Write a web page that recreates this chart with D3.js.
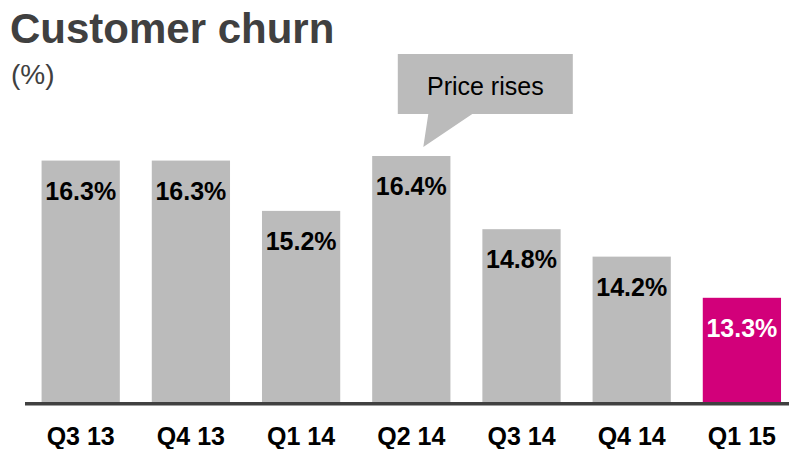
<!DOCTYPE html>
<html>
<head>
<meta charset="utf-8">
<script src="https://cdn.jsdelivr.net/npm/d3@7"></script>
<style>
	body { margin: 0; background: #fff; }
	svg { display: block; font-family: Arial, 'Liberation Sans', sans-serif; }
</style>
</head>
<body>
<div id="chart"></div>
<script>
var quarters = ['Q3 13', 'Q4 13', 'Q1 14', 'Q2 14', 'Q3 14', 'Q4 14', 'Q1 15'];
var churn = [16.3, 16.3, 15.2, 16.4, 14.8, 14.2, 13.3];
var highlight = 'Q1 15';
var note = { quarter: 'Q2 14', text: 'Price rises' };

var width = 789;
var height = 449;
var baseY = 403;
var barGrey = '#bbbbbb';
var magenta = '#d2007a';

var svg = d3.select('#chart')
	.append('svg')
	.attr('width', width)
	.attr('height', height);

var xScale = d3.scaleBand()
	.domain(quarters)
	.range([25.6, 797])
	.paddingInner(0.29)
	.paddingOuter(0.145);

var yScale = d3.scaleLinear()
	.domain([11, 16.4])
	.range([baseY, 156]);

// title
svg.append('text')
	.attr('x', 10)
	.attr('y', 43)
	.style('font-size', '42px')
	.style('font-weight', 'bold')
	.style('fill', '#404040')
	.text('Customer churn');

svg.append('text')
	.attr('x', 11)
	.attr('y', 84)
	.style('font-size', '28px')
	.style('fill', '#404040')
	.text('(%)');

// bars
var data = quarters.map(function(q, i) {
	return { q: q, v: churn[i] };
});

var bars = svg.append('g').classed('bars', true)
	.selectAll('g')
	.data(data)
	.enter()
	.append('g');

bars.append('rect')
	.attr('x', function(d) { return xScale(d.q); })
	.attr('y', function(d) { return yScale(d.v); })
	.attr('width', xScale.bandwidth())
	.attr('height', function(d) { return baseY - yScale(d.v); })
	.style('fill', function(d) { return d.q === highlight ? magenta : barGrey; });

bars.append('text')
	.attr('x', function(d) { return xScale(d.q) + xScale.bandwidth() / 2; })
	.attr('y', function(d) { return yScale(d.v) + 39; })
	.style('font-size', '25px')
	.style('font-weight', 'bold')
	.style('text-anchor', 'middle')
	.style('fill', function(d) { return d.q === highlight ? '#fff' : '#000'; })
	.text(function(d) { return d.v.toFixed(1) + '%'; });

// baseline
svg.append('line')
	.attr('x1', 25)
	.attr('x2', width)
	.attr('y1', baseY + 0.75)
	.attr('y2', baseY + 0.75)
	.style('stroke', '#404040')
	.style('stroke-width', 3.5);

// category labels
svg.append('g').classed('labels', true)
	.selectAll('text')
	.data(quarters)
	.enter()
	.append('text')
	.attr('x', function(d) { return xScale(d) + xScale.bandwidth() / 2; })
	.attr('y', 445)
	.style('font-size', '25px')
	.style('font-weight', 'bold')
	.style('text-anchor', 'middle')
	.style('fill', '#000')
	.text(function(d) { return d; });

// callout
var cx = xScale(note.quarter) + xScale.bandwidth() / 2;
var boxW = 175, boxTop = 54, boxBottom = 114;
var boxL = cx + 75 - boxW / 2 - 1;
var callout = svg.append('g').classed('callout', true);

callout.append('path')
	.attr('d', 'M' + boxL + ',' + boxTop +
		'H' + (boxL + boxW) +
		'V' + boxBottom +
		'H' + (cx + 61) +
		'L' + (cx + 12) + ',' + (boxBottom + 33) +
		'L' + (cx + 17) + ',' + boxBottom +
		'H' + boxL + 'Z')
	.style('fill', barGrey);

callout.append('text')
	.attr('x', boxL + boxW / 2)
	.attr('y', 95)
	.style('font-size', '25px')
	.style('text-anchor', 'middle')
	.style('fill', '#000')
	.text(note.text);
</script>
</body>
</html>
